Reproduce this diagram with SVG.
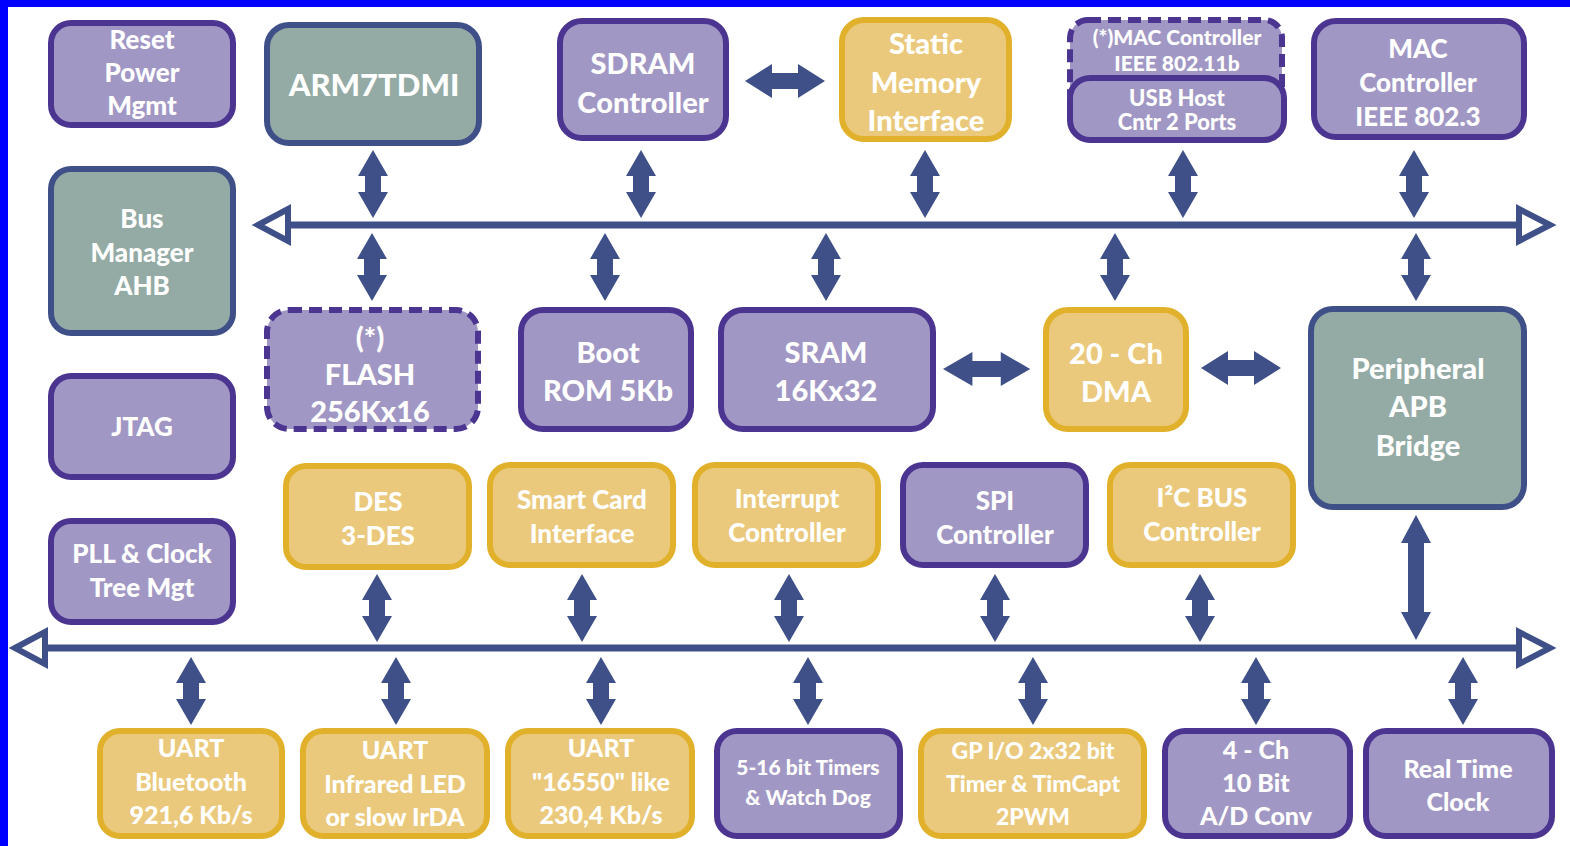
<svg xmlns="http://www.w3.org/2000/svg" xmlns:xlink="http://www.w3.org/1999/xlink" width="1570" height="846" viewBox="0 0 1570 846">
<defs>
<style>
.p{fill:#a197c4;stroke:#4b3590;stroke-width:6}
.g{fill:#93aaa5;stroke:#3f5089;stroke-width:6}
.y{fill:#eac97c;stroke:#e1b12b;stroke-width:6}
.d{stroke-dasharray:13 7}
.ar{fill:#3f5089}
.bus{stroke:#3f5089;stroke-width:7;fill:none}
.hd{fill:#ffffff;stroke:#3f5089;stroke-width:6;stroke-linejoin:miter}
text{font-family:Lato,"Open Sans","Liberation Sans",sans-serif;font-weight:900;fill:#ffffff;text-anchor:middle;dominant-baseline:central}
.f30{font-size:31px}
.f28{font-size:29px}
.f25{font-size:26px}
.f24{font-size:25px}
.f23{font-size:22px}
.f22{font-size:23px}
.f20{font-size:21px}
</style>
<path id="va" d="M0,0 L15,26 L8,26 L8,42 L15,42 L0,68 L-15,42 L-8,42 L-8,26 L-15,26 Z"/>
<path id="ha" d="M0,0 L27,-17 L27,-8 L53,-8 L53,-17 L80,0 L53,17 L53,8 L27,8 L27,17 Z"/>
</defs>
<rect x="0" y="0" width="1570" height="846" fill="#ffffff"/>
<rect x="0" y="0" width="1570" height="7" fill="#0000ff"/>
<rect x="0" y="0" width="8" height="846" fill="#0000ff"/>

<g id="connectors">
<line class="bus" x1="288" y1="225" x2="1519" y2="225"/>
<polygon class="hd" points="258,225 288,209 288,241"/>
<polygon class="hd" points="1550,225 1519,209 1519,241"/>
<line class="bus" x1="45" y1="648" x2="1519" y2="648"/>
<polygon class="hd" points="15,648 45,632 45,664"/>
<polygon class="hd" points="1550,648 1519,632 1519,664"/>
<g class="ar">
<use xlink:href="#va" transform="translate(373,150)"/>
<use xlink:href="#va" transform="translate(641,150)"/>
<use xlink:href="#va" transform="translate(925,150)"/>
<use xlink:href="#va" transform="translate(1183,150)"/>
<use xlink:href="#va" transform="translate(1414,150)"/>
<use xlink:href="#va" transform="translate(372,233)"/>
<use xlink:href="#va" transform="translate(605,233)"/>
<use xlink:href="#va" transform="translate(826,233)"/>
<use xlink:href="#va" transform="translate(1115,233)"/>
<use xlink:href="#va" transform="translate(1416,233)"/>
<use xlink:href="#va" transform="translate(377,574)"/>
<use xlink:href="#va" transform="translate(582,574)"/>
<use xlink:href="#va" transform="translate(789,574)"/>
<use xlink:href="#va" transform="translate(995,574)"/>
<use xlink:href="#va" transform="translate(1200,574)"/>
<path d="M1416,515 L1431,543 L1424,543 L1424,612 L1431,612 L1416,640 L1401,612 L1408,612 L1408,543 L1401,543 Z"/>
<use xlink:href="#va" transform="translate(191,657)"/>
<use xlink:href="#va" transform="translate(396,657)"/>
<use xlink:href="#va" transform="translate(601,657)"/>
<use xlink:href="#va" transform="translate(808,657)"/>
<use xlink:href="#va" transform="translate(1033,657)"/>
<use xlink:href="#va" transform="translate(1256,657)"/>
<use xlink:href="#va" transform="translate(1463,657)"/>
<use xlink:href="#ha" transform="translate(745,81)"/>
<use xlink:href="#ha" transform="translate(943,369) scale(1.09,1)"/>
<use xlink:href="#ha" transform="translate(1201,368)"/>
</g>
</g>

<g id="reset"><rect class="p" x="51" y="23" width="182" height="102" rx="20"/>
<text class="f25" x="142" y="39">Reset</text><text class="f25" x="142" y="72">Power</text><text class="f25" x="142" y="105">Mgmt</text></g>
<g id="arm"><rect class="g" x="267" y="25" width="212" height="118" rx="22"/>
<text class="f30" x="374" y="84">ARM7TDMI</text></g>
<g id="sdram"><rect class="p" x="560" y="21" width="166" height="117" rx="22"/>
<text class="f28" x="643" y="62">SDRAM</text><text class="f28" x="643" y="101">Controller</text></g>
<g id="static"><rect class="y" x="842" y="20" width="167" height="119" rx="22"/>
<text class="f28" x="926" y="42">Static</text><text class="f28" x="926" y="81">Memory</text><text class="f28" x="926" y="119">Interface</text></g>
<g id="mac11b"><rect class="p d" x="1070" y="20" width="212" height="90" rx="18"/>
<text class="f20" x="1177" y="36">(*)MAC Controller</text><text class="f20" x="1177" y="62">IEEE 802.11b</text></g>
<g id="usb"><rect class="p" x="1070" y="78" width="214" height="62" rx="20"/>
<text class="f23" x="1177" y="97">USB Host</text><text class="f23" x="1177" y="121">Cntr 2 Ports</text></g>
<g id="mac3"><rect class="p" x="1314" y="21" width="210" height="116" rx="22"/>
<text class="f25" x="1418" y="48">MAC</text><text class="f25" x="1418" y="82">Controller</text><text class="f25" x="1418" y="116">IEEE 802.3</text></g>
<g id="busmgr"><rect class="g" x="51" y="169" width="182" height="164" rx="20"/>
<text class="f25" x="142" y="218">Bus</text><text class="f25" x="142" y="252">Manager</text><text class="f25" x="142" y="285">AHB</text></g>
<g id="jtag"><rect class="p" x="51" y="376" width="182" height="101" rx="20"/>
<text class="f25" x="142" y="426">JTAG</text></g>
<g id="pll"><rect class="p" x="51" y="521" width="182" height="101" rx="20"/>
<text class="f25" x="142" y="553">PLL &amp; Clock</text><text class="f25" x="142" y="587">Tree Mgt</text></g>
<g id="flash"><rect class="p d" x="267" y="310" width="211" height="119" rx="22"/>
<text class="f28" x="370" y="336">(*)</text><text class="f28" x="370" y="373">FLASH</text><text class="f28" x="370" y="410">256Kx16</text></g>
<g id="boot"><rect class="p" x="521" y="310" width="170" height="119" rx="22"/>
<text class="f28" x="608" y="351">Boot</text><text class="f28" x="608" y="389">ROM 5Kb</text></g>
<g id="sram"><rect class="p" x="721" y="310" width="212" height="119" rx="22"/>
<text class="f28" x="826" y="351">SRAM</text><text class="f28" x="826" y="389">16Kx32</text></g>
<g id="dma"><rect class="y" x="1046" y="310" width="140" height="119" rx="22"/>
<text class="f28" x="1116" y="352">20 - Ch</text><text class="f28" x="1116" y="390">DMA</text></g>
<g id="apb"><rect class="g" x="1311" y="309" width="213" height="198" rx="22"/>
<text class="f28" x="1418" y="367">Peripheral</text><text class="f28" x="1418" y="405">APB</text><text class="f28" x="1418" y="444">Bridge</text></g>
<g id="des"><rect class="y" x="286" y="466" width="183" height="101" rx="20"/>
<text class="f25" x="378" y="501">DES</text><text class="f25" x="378" y="535">3-DES</text></g>
<g id="smart"><rect class="y" x="490" y="465" width="183" height="100" rx="20"/>
<text class="f25" x="582" y="499">Smart Card</text><text class="f25" x="582" y="533">Interface</text></g>
<g id="irq"><rect class="y" x="695" y="465" width="183" height="100" rx="20"/>
<text class="f25" x="787" y="498">Interrupt</text><text class="f25" x="787" y="532">Controller</text></g>
<g id="spi"><rect class="p" x="903" y="465" width="183" height="100" rx="20"/>
<text class="f25" x="995" y="500">SPI</text><text class="f25" x="995" y="534">Controller</text></g>
<g id="i2c"><rect class="y" x="1110" y="465" width="183" height="100" rx="20"/>
<text class="f25" x="1202" y="497">I²C BUS</text><text class="f25" x="1202" y="531">Controller</text></g>
<g id="uartbt"><rect class="y" x="100" y="731" width="182" height="105" rx="20"/>
<text class="f24" x="191" y="747">UART</text><text class="f24" x="191" y="781">Bluetooth</text><text class="f24" x="191" y="814">921,6 Kb/s</text></g>
<g id="uartir"><rect class="y" x="303" y="731" width="184" height="105" rx="20"/>
<text class="f24" x="395" y="749">UART</text><text class="f24" x="395" y="783">Infrared LED</text><text class="f24" x="395" y="816">or slow IrDA</text></g>
<g id="uart16550"><rect class="y" x="508" y="731" width="184" height="105" rx="20"/>
<text class="f24" x="601" y="747">UART</text><text class="f24" x="601" y="781">"16550" like</text><text class="f24" x="601" y="814">230,4 Kb/s</text></g>
<g id="timers"><rect class="p" x="717" y="731" width="183" height="105" rx="20"/>
<text class="f20" x="808" y="766">5-16 bit Timers</text><text class="f20" x="808" y="796">&amp; Watch Dog</text></g>
<g id="gpio"><rect class="y" x="921" y="731" width="223" height="105" rx="20"/>
<text class="f22" x="1033" y="750">GP I/O 2x32 bit</text><text class="f22" x="1033" y="783">Timer &amp; TimCapt</text><text class="f22" x="1033" y="816">2PWM</text></g>
<g id="adc"><rect class="p" x="1165" y="731" width="185" height="105" rx="20"/>
<text class="f24" x="1256" y="749">4 - Ch</text><text class="f24" x="1256" y="782">10 Bit</text><text class="f24" x="1256" y="815">A/D Conv</text></g>
<g id="rtc"><rect class="p" x="1366" y="731" width="186" height="105" rx="20"/>
<text class="f24" x="1458" y="768">Real Time</text><text class="f24" x="1458" y="801">Clock</text></g>
</svg>
